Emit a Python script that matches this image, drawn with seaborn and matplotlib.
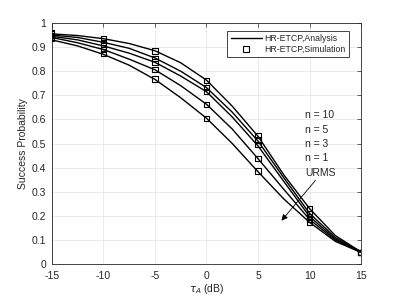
import numpy as np
import pandas as pd
import matplotlib
matplotlib.use('Agg')
import matplotlib.pyplot as plt
import seaborn as sns
from matplotlib.lines import Line2D

# analysis curves, every 2.5 dB
tau_fine = [-15, -12.5, -10, -7.5, -5, -2.5, 0, 2.5, 5, 7.5, 10, 12.5, 15]
ana_n10 = [0.955, 0.948, 0.935, 0.915, 0.885, 0.835, 0.763, 0.655, 0.530, 0.370, 0.230, 0.118, 0.050]
ana_n5 = [0.950, 0.940, 0.920, 0.895, 0.855, 0.800, 0.732, 0.630, 0.510, 0.358, 0.210, 0.110, 0.050]
ana_n3 = [0.945, 0.930, 0.905, 0.875, 0.837, 0.780, 0.715, 0.610, 0.490, 0.343, 0.197, 0.104, 0.049]
ana_n1 = [0.940, 0.918, 0.890, 0.850, 0.806, 0.740, 0.663, 0.560, 0.437, 0.310, 0.185, 0.099, 0.049]
ana_urms = [0.930, 0.905, 0.870, 0.825, 0.766, 0.690, 0.605, 0.500, 0.383, 0.270, 0.173, 0.094, 0.048]

# simulation points every 5 dB
tau_sim = [-15, -10, -5, 0, 5, 10, 15]
sim_n10 = [0.962, 0.935, 0.884, 0.763, 0.532, 0.231, 0.048]
sim_n5 = [0.955, 0.920, 0.853, 0.732, 0.515, 0.210, 0.048]
sim_n3 = [0.948, 0.905, 0.838, 0.715, 0.497, 0.196, 0.048]
sim_n1 = [0.942, 0.890, 0.806, 0.663, 0.439, 0.185, 0.048]
sim_urms = [0.935, 0.874, 0.768, 0.605, 0.386, 0.173, 0.048]

labels = ['n = 10', 'n = 5', 'n = 3', 'n = 1', 'URMS']
ana = [ana_n10, ana_n5, ana_n3, ana_n1, ana_urms]
sim = [sim_n10, sim_n5, sim_n3, sim_n1, sim_urms]

df_ana = pd.concat([pd.DataFrame({'tau': tau_fine, 'p': v, 'scheme': l}) for l, v in zip(labels, ana)])
df_sim = pd.concat([pd.DataFrame({'tau': tau_sim, 'p': v, 'scheme': l}) for l, v in zip(labels, sim)])

sns.set_style('whitegrid')
plt.rcParams['font.family'] = ['Liberation Sans', 'DejaVu Sans']
plt.rcParams['font.size'] = 7
plt.rcParams['axes.unicode_minus'] = False

fig = plt.figure(figsize=(3.99, 2.99), dpi=100)
ax = fig.add_axes([0.130, 0.117, 0.775, 0.806])

sns.lineplot(data=df_ana, x='tau', y='p', units='scheme', estimator=None,
             color='black', linewidth=1.0, ax=ax, legend=False)
sns.scatterplot(data=df_sim, x='tau', y='p', marker='s', s=14,
                facecolor='none', edgecolor='black', linewidth=0.8, ax=ax, legend=False, zorder=3)

ax.set_xlim(-15, 15)
ax.set_ylim(0, 1)
ax.set_xticks(np.arange(-15, 16, 5))
ax.set_yticks(np.arange(0, 1.01, 0.1))
ax.set_yticklabels(['0', '0.1', '0.2', '0.3', '0.4', '0.5', '0.6', '0.7', '0.8', '0.9', '1'])
ax.grid(True, color='#e6e6e6', linewidth=0.6)
for s in ax.spines.values():
    s.set_color('#262626')
    s.set_linewidth(0.6)
ax.tick_params(direction='in', length=3, width=0.5, top=True, right=True,
               labelsize=7.5, colors='#262626')
ax.tick_params(axis='x', pad=5)
ax.tick_params(axis='y', pad=4)
ax.set_xlabel(r'$\tau_A$ (dB)', fontsize=7.5, color='#262626', labelpad=1)
ax.set_ylabel('Success Probability', fontsize=7.5, color='#262626', labelpad=3)

# labels for the curves, arrow pointing towards lower curves
text_y = [0.618, 0.556, 0.498, 0.440, 0.378]
for l, ty in zip(labels, text_y):
    ax.text(9.6, ty, l, fontsize=7.5, color='#262626', va='center')
ax.annotate('', xy=(7.1, 0.171), xytext=(10.75, 0.356),
            arrowprops=dict(arrowstyle='-|>', color='black', lw=0.6, mutation_scale=9))

handles = [Line2D([], [], color='black', linewidth=1.0),
           Line2D([], [], color='black', linestyle='none', marker='s', markerfacecolor='none',
                  markersize=4, markeredgewidth=0.8)]
leg = ax.legend(handles, ['HR-ETCP,Analysis', 'HR-ETCP,Simulation'], loc='upper right',
                fontsize=6.3, frameon=True, fancybox=False, borderpad=0.35, labelspacing=0.25,
                handlelength=3.6, handletextpad=0.3, bbox_to_anchor=(0.975, 0.985))
leg.get_frame().set_edgecolor('#262626')
leg.get_frame().set_linewidth(0.6)
leg.get_frame().set_alpha(1)

fig.savefig('out.png', dpi=100)
